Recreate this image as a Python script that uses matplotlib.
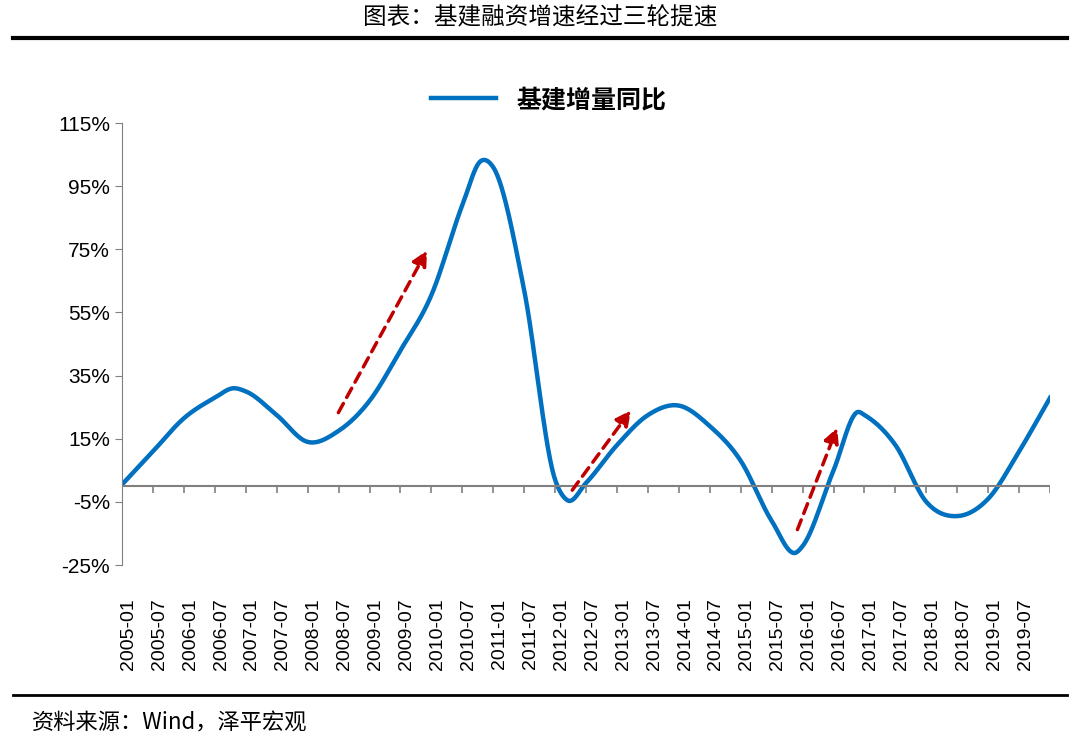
import numpy as np
import matplotlib.pyplot as plt

plt.rcParams['axes.unicode_minus'] = False

labels = [f'{y}-{m}' for y in range(2005, 2020) for m in ('01', '07')]
# semi-annual values (%), last point = 2020-01
values = [0.5, 11, 21.5, 28, 30, 22.5, 14, 17.5, 27, 43, 60.5, 89, 101, 62,
          2, 1, 13, 22.5, 25.5, 19, 8, -11, -19, 5, 22.5, 13, -5, -9.5, -4, 11, 28]
# extra points at peaks / troughs (x index, value)
extra = [(3.6, 31), (11.6, 103), (14.4, -4.5), (21.8, -21), (23.8, 23.5)]
arrows = [((6.95, 22.5), (9.9, 75.4)),
          ((14.5, -2), (16.5, 24.7)),
          ((21.8, -14.6), (23.15, 19.3))]

pts = sorted([(float(i), v) for i, v in enumerate(values)] + extra)
px = np.array([p[0] for p in pts]); py = np.array([p[1] for p in pts])


def smooth(x, y, n=30):
    # cubic Hermite through the points, tangents from neighbours
    m = np.gradient(y, x)
    xs, ys = [], []
    for k in range(len(x) - 1):
        h = x[k + 1] - x[k]
        t = np.linspace(0, 1, n, endpoint=False)
        h00 = 2 * t**3 - 3 * t**2 + 1; h10 = t**3 - 2 * t**2 + t
        h01 = -2 * t**3 + 3 * t**2; h11 = t**3 - t**2
        xs.extend(x[k] + t * h)
        ys.extend(h00 * y[k] + h10 * h * m[k] + h01 * y[k + 1] + h11 * h * m[k + 1])
    xs.append(x[-1]); ys.append(y[-1])
    return xs, ys


fig = plt.figure(figsize=(10.8, 7.36), dpi=100)
cjk = 'Noto Sans CJK SC'
fig.text(0.5, 0.975, '图表：基建融资增速经过三轮提速', ha='center', va='center',
         fontsize=17, family=cjk)
fig.add_artist(plt.Line2D([0.012, 0.988], [0.948, 0.948], color='black', lw=3))
fig.add_artist(plt.Line2D([0.012, 0.988], [0.056, 0.056], color='black', lw=2))
fig.text(0.03, 0.018, '资料来源：Wind，泽平宏观', ha='left', va='center',
         fontsize=16, family=cjk, style='italic')

ax = fig.add_axes([0.113, 0.2323, 0.8593, 0.6005])
sx, sy = smooth(px, py)
ax.plot(sx, sy, color='#0070C0', lw=3.2, label='基建增量同比')
for (x0, y0), (x1, y1) in arrows:
    ax.annotate('', xy=(x1, y1), xytext=(x0, y0),
                arrowprops=dict(arrowstyle='-|>', color='#C00000', lw=2.5,
                                ls=(0, (3, 2)), mutation_scale=22))
ax.axhline(0, color='#808080', lw=1.5)
ax.vlines(np.arange(31), -2.2, 0, color='#808080', lw=1.2)
ax.set_xlim(0, 30)
ax.set_ylim(-25, 115)
ax.set_yticks(np.arange(-25, 116, 20))
ax.set_yticklabels([f'{v}%' for v in range(-25, 116, 20)], fontsize=15,
                   family='Liberation Sans')
ax.set_xticks(np.arange(30) + 0.2)
ax.set_xticklabels(labels, rotation=90, fontsize=14, family='Liberation Sans')
ax.tick_params(axis='x', length=0, pad=24)
ax.tick_params(axis='y', direction='out', length=5, color='#808080')
for s in ('top', 'right', 'bottom'):
    ax.spines[s].set_visible(False)
ax.spines['left'].set_color('#808080')
ax.legend(loc='upper center', bbox_to_anchor=(0.46, 1.13), frameon=False,
          prop={'family': cjk, 'size': 18, 'weight': 'bold'}, handlelength=2.6)
fig.savefig('out.png', dpi=100)
